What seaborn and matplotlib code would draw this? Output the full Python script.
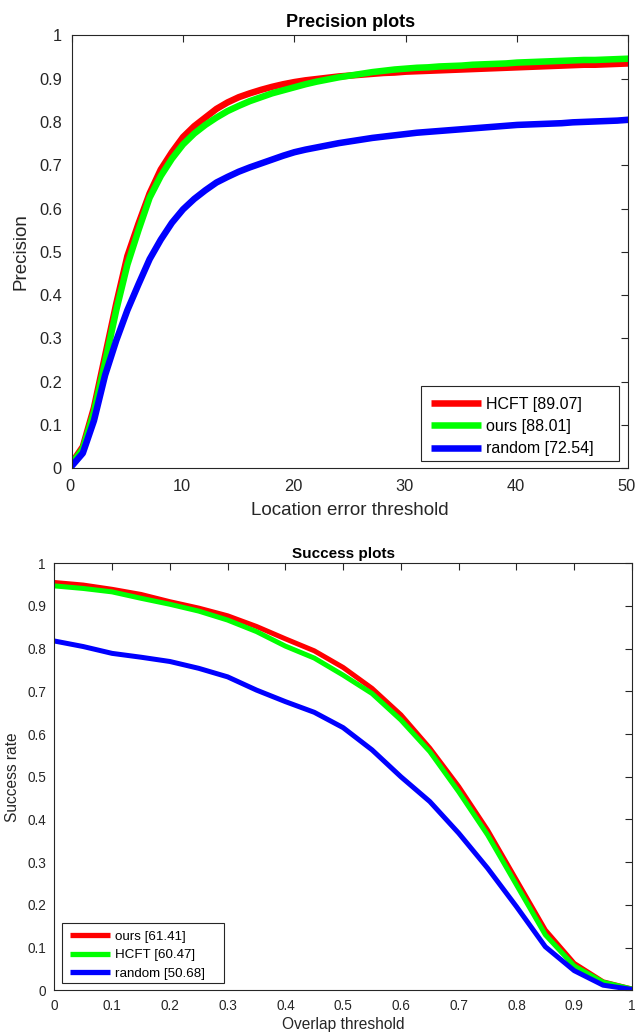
import numpy as np
import pandas as pd
import seaborn as sns
import matplotlib.pyplot as plt
import matplotlib.transforms as mtransforms
from matplotlib.patches import Rectangle

# precision plot data (location error threshold 0..50)
prec_thresholds = list(range(51))
prec_hcft = [0.012, 0.05, 0.14, 0.26, 0.38, 0.49, 0.565, 0.635, 0.69, 0.73,
             0.765, 0.79, 0.81, 0.83, 0.845, 0.857, 0.866, 0.874, 0.881, 0.887,
             0.892, 0.896, 0.899, 0.902, 0.905, 0.907, 0.909, 0.911, 0.913, 0.914,
             0.916, 0.917, 0.918, 0.919, 0.920, 0.921, 0.922, 0.923, 0.924, 0.925,
             0.926, 0.927, 0.928, 0.929, 0.930, 0.931, 0.932, 0.932, 0.933, 0.934,
             0.935]
prec_ours = [0.01, 0.045, 0.13, 0.245, 0.365, 0.47, 0.55, 0.625, 0.675, 0.715,
             0.748, 0.773, 0.793, 0.81, 0.825, 0.837, 0.848, 0.857, 0.866, 0.873,
             0.88, 0.887, 0.893, 0.898, 0.903, 0.907, 0.911, 0.915, 0.918, 0.921,
             0.923, 0.925, 0.926, 0.928, 0.929, 0.930, 0.932, 0.933, 0.934, 0.935,
             0.937, 0.938, 0.939, 0.940, 0.941, 0.942, 0.943, 0.943, 0.944, 0.945,
             0.946]
prec_random = [0.005, 0.035, 0.11, 0.215, 0.295, 0.365, 0.425, 0.483, 0.528, 0.567,
               0.598, 0.622, 0.642, 0.66, 0.673, 0.685, 0.695, 0.704, 0.713, 0.722,
               0.73, 0.736, 0.741, 0.746, 0.751, 0.755, 0.759, 0.763, 0.766, 0.769,
               0.772, 0.775, 0.777, 0.779, 0.781, 0.783, 0.785, 0.787, 0.789, 0.791,
               0.793, 0.794, 0.795, 0.796, 0.797, 0.799, 0.80, 0.801, 0.802, 0.803,
               0.805]
prec_labels = ["HCFT [89.07]", "ours [88.01]", "random [72.54]"]

# success plot data (overlap threshold 0..1 step 0.05)
succ_thresholds = [round(0.05 * i, 2) for i in range(21)]
succ_ours = [0.955, 0.949, 0.939, 0.927, 0.910, 0.895, 0.877, 0.852, 0.823, 0.795,
             0.756, 0.707, 0.645, 0.567, 0.477, 0.375, 0.258, 0.141, 0.063, 0.020,
             0.003]
succ_hcft = [0.947, 0.941, 0.933, 0.918, 0.904, 0.888, 0.867, 0.840, 0.806, 0.778,
             0.738, 0.695, 0.633, 0.559, 0.465, 0.364, 0.247, 0.130, 0.057, 0.019,
             0.003]
succ_random = [0.818, 0.805, 0.789, 0.780, 0.770, 0.754, 0.734, 0.703, 0.676, 0.651,
               0.615, 0.563, 0.500, 0.442, 0.368, 0.286, 0.196, 0.102, 0.046, 0.012,
               0.002]
succ_labels = ["ours [61.41]", "HCFT [60.47]", "random [50.68]"]

tick_labels_01 = ["0", "0.1", "0.2", "0.3", "0.4", "0.5", "0.6", "0.7", "0.8", "0.9", "1"]
colors = ["#ff0000", "#00ff00", "#0000ff"]
AX_COLOR = "#262626"


def _long_df(x, series, labels):
    frames = []
    for vals, lab in zip(series, labels):
        frames.append(pd.DataFrame({"x": x, "y": vals, "method": lab}))
    return pd.concat(frames, ignore_index=True)


def _style_axes(ax, tick_size, pad_x, pad_y):
    ax.tick_params(direction="in", top=True, right=True, length=5, width=0.8,
                   colors=AX_COLOR, labelsize=tick_size)
    ax.tick_params(axis="x", pad=pad_x)
    ax.tick_params(axis="y", pad=pad_y)
    for sp in ax.spines.values():
        sp.set_visible(True)
        sp.set_linewidth(0.8)
        sp.set_color(AX_COLOR)


def _matlab_legend(ax, frame, anchor, fontsize, handlelength, labelspacing, lw):
    # MATLAB style box: extra room on the right of the labels
    x0, y0, x1, y1 = frame
    ax.add_patch(Rectangle((x0, y0), x1 - x0, y1 - y0, transform=ax.transAxes,
                           facecolor="white", edgecolor=AX_COLOR, lw=0.8,
                           clip_on=False, zorder=4))
    leg = ax.legend(loc="center left", bbox_to_anchor=anchor, borderaxespad=0,
                    borderpad=0, frameon=False, fontsize=fontsize,
                    handlelength=handlelength, handletextpad=0.33,
                    labelspacing=labelspacing)
    leg.set_zorder(5)
    for h in leg.legend_handles:
        h.set_solid_capstyle("butt")
        h.set_linewidth(lw)
    for t in leg.get_texts():
        t.set_color("black")
    return leg


sns.set_style("white")
plt.rcParams["font.family"] = ["Liberation Sans", "DejaVu Sans"]

fig = plt.figure(figsize=(6.36, 10.32), dpi=100)
ax1 = fig.add_axes([0.1127, 0.5462, 0.8755, 0.4196])
ax2 = fig.add_axes([0.0854, 0.0404, 0.9083, 0.4138])

# Precision plots
df_prec = _long_df(prec_thresholds, [prec_hcft, prec_ours, prec_random], prec_labels)
sns.lineplot(data=df_prec, x="x", y="y", hue="method", hue_order=prec_labels,
             palette=colors, lw=4.7, ax=ax1)
ax1.set_xlim(0, 50)
ax1.set_ylim(0, 1)
ax1.set_xticks([0, 10, 20, 30, 40, 50])
ax1.set_yticks(np.round(np.arange(0, 1.01, 0.1), 1))
ax1.set_yticklabels(tick_labels_01)
_style_axes(ax1, 11.8, 8, 7)
shift = mtransforms.ScaledTranslation(-1.5 / 100, 0, fig.dpi_scale_trans)
for lab in ax1.get_xticklabels():
    lab.set_transform(lab.get_transform() + shift)
ax1.set_title("Precision plots", fontsize=13, fontweight="bold", pad=6, color="black")
ax1.set_xlabel("Location error threshold", fontsize=13.5, color=AX_COLOR)
ax1.set_ylabel("Precision", fontsize=13.5, color=AX_COLOR)
ax1.xaxis.set_label_coords(0.5, -0.077)
ax1.yaxis.set_label_coords(-0.076, 0.5)
_matlab_legend(ax1, (0.6268, 0.0169, 0.9835, 0.1901), (0.6448, 0.0965),
               11.5, 3.13, 0.46, 4.7)

# Success plots
df_succ = _long_df(succ_thresholds, [succ_ours, succ_hcft, succ_random], succ_labels)
sns.lineplot(data=df_succ, x="x", y="y", hue="method", hue_order=succ_labels,
             palette=colors, lw=3.6, ax=ax2)
ax2.set_xlim(0, 1)
ax2.set_ylim(0, 1)
ax2.set_xticks(np.round(np.arange(0, 1.01, 0.1), 1))
ax2.set_xticklabels(tick_labels_01)
ax2.set_yticks(np.round(np.arange(0, 1.01, 0.1), 1))
ax2.set_yticklabels(tick_labels_01)
_style_axes(ax2, 9.8, 6, 6)
ax2.set_title("Success plots", fontsize=11, fontweight="bold", pad=4, color="black")
ax2.set_xlabel("Overlap threshold", fontsize=11.2, color=AX_COLOR)
ax2.set_ylabel("Success rate", fontsize=11.2, color=AX_COLOR)
ax2.xaxis.set_label_coords(0.5, -0.0625)
ax2.yaxis.set_label_coords(-0.0587, 0.5)
_matlab_legend(ax2, (0.0132, 0.0178, 0.2934, 0.1569), (0.0279, 0.082),
               9.6, 3.0, 0.45, 3.8)

fig.savefig("out.png", dpi=100)
plt.close(fig)
